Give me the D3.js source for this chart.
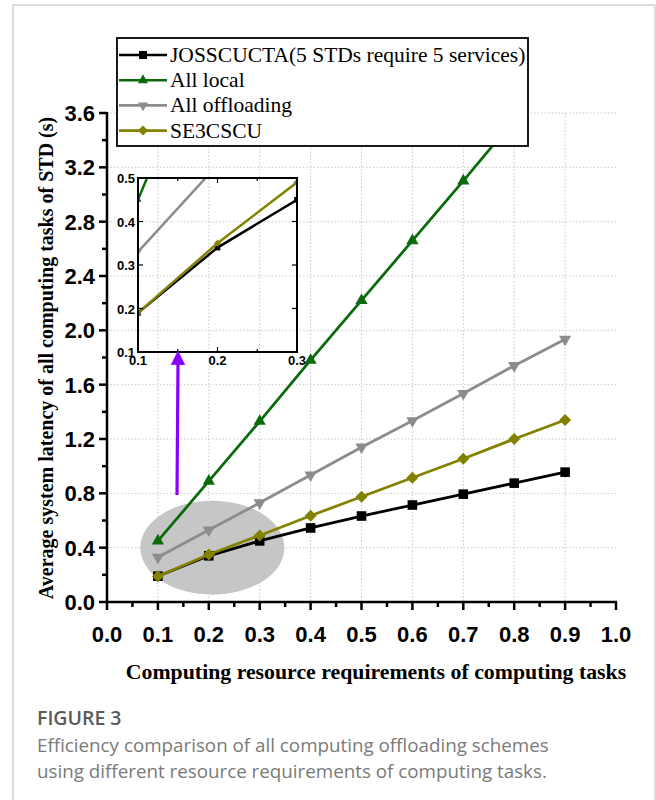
<!DOCTYPE html>
<html>
<head>
<meta charset="utf-8">
<script src="https://cdn.jsdelivr.net/npm/d3@7"></script>
<style>
body { margin: 0; background: #fff; }
svg { display: block; }
</style>
</head>
<body>
<svg id="chart" width="656" height="800"></svg>
<script>
// values
var xValues = [0.1, 0.2, 0.3, 0.4, 0.5, 0.6, 0.7, 0.8, 0.9];
var jossValues = [0.19, 0.34, 0.45, 0.545, 0.633, 0.714, 0.794, 0.875, 0.956];
var localValues = [0.45, 0.89, 1.33, 1.78, 2.22, 2.66, 3.10, 3.55, 3.99];
var offloadValues = [0.33, 0.53, 0.73, 0.935, 1.14, 1.335, 1.535, 1.74, 1.935];
var se3Values = [0.19, 0.35, 0.49, 0.635, 0.775, 0.915, 1.055, 1.2, 1.34];
var seriesNames = ["JOSSCUCTA(5 STDs require 5 services)", "All local", "All offloading", "SE3CSCU"];

var xTicks = [0.0, 0.1, 0.2, 0.3, 0.4, 0.5, 0.6, 0.7, 0.8, 0.9, 1.0];
var yTicks = [0.0, 0.4, 0.8, 1.2, 1.6, 2.0, 2.4, 2.8, 3.2, 3.6];
var insetXTicks = [0.1, 0.2, 0.3];
var insetYTicks = [0.1, 0.2, 0.3, 0.4, 0.5];

var series = [
    {name: seriesNames[0], values: jossValues, color: "#000000", shape: "square"},
    {name: seriesNames[1], values: localValues, color: "#0b6b0b", shape: "up"},
    {name: seriesNames[2], values: offloadValues, color: "#8c8c8c", shape: "down"},
    {name: seriesNames[3], values: se3Values, color: "#828200", shape: "diamond"}
];

var svg = d3.select("#chart");

// outer frame of the figure
svg.append("rect")
    .attr("x", 13).attr("y", 5)
    .attr("width", 642).attr("height", 820)
    .attr("fill", "none")
    .attr("stroke", "#d0d0d0")
    .attr("stroke-width", 1.5);

var plotLeft = 107, plotRight = 616, plotTop = 113, plotBottom = 602;
var x = d3.scaleLinear().domain([0, 1]).range([plotLeft, plotRight]);
var y = d3.scaleLinear().domain([0, 3.6]).range([plotBottom, plotTop]);

svg.append("clipPath").attr("id", "plotClip")
    .append("rect").attr("x", plotLeft).attr("y", plotTop)
    .attr("width", plotRight - plotLeft).attr("height", plotBottom - plotTop);

// dotted grid
var grid = svg.append("g").attr("stroke", "#c8c8c8").attr("stroke-width", 1).attr("stroke-dasharray", "1.5,2");
xTicks.slice(1, -1).forEach(function(t) {
    grid.append("line").attr("x1", x(t)).attr("x2", x(t)).attr("y1", plotTop).attr("y2", plotBottom);
});
yTicks.slice(1).forEach(function(t) {
    grid.append("line").attr("x1", plotLeft).attr("x2", plotRight).attr("y1", y(t)).attr("y2", y(t));
});

// highlight ellipse
svg.append("ellipse")
    .attr("cx", x(0.207)).attr("cy", y(0.4))
    .attr("rx", 72).attr("ry", 47)
    .attr("fill", "#c6c6c6");

function markerPath(shape, size) {
    if (shape === "square") return d3.symbol(d3.symbolSquare, size * size)();
    if (shape === "diamond") return d3.symbol(d3.symbolSquare, size * size * 0.5)();
    return d3.symbol(d3.symbolTriangle, size * size * 0.45)();
}
function markerRotate(shape) {
    if (shape === "diamond") return 45;
    if (shape === "down") return 180;
    return 0;
}

function drawSeries(g, xs, ys, lineWidth, markerSize, clipId) {
    var line = d3.line()
        .x(function(d, i) { return xs(xValues[i]); })
        .y(function(d) { return ys(d); });
    var layer = g.append("g").attr("clip-path", "url(#" + clipId + ")");
    series.forEach(function(s) {
        layer.append("path")
            .datum(s.values)
            .attr("d", line)
            .attr("fill", "none")
            .attr("stroke", s.color)
            .attr("stroke-width", lineWidth);
        layer.selectAll(null).data(s.values).enter().append("path")
            .attr("d", markerPath(s.shape, s.shape === "square" ? markerSize * 0.8 : markerSize))
            .attr("transform", function(d, i) {
                return "translate(" + xs(xValues[i]) + "," + ys(d) + ") rotate(" + markerRotate(s.shape) + ")";
            })
            .attr("fill", s.color);
    });
}

drawSeries(svg, x, y, 2.8, 12, "plotClip");

// main axes
var axisG = svg.append("g").attr("stroke", "#000").attr("stroke-width", 2.5);
axisG.append("line").attr("x1", plotLeft).attr("x2", plotRight + 1).attr("y1", plotBottom).attr("y2", plotBottom);
axisG.append("line").attr("x1", plotLeft).attr("x2", plotLeft).attr("y1", plotTop - 1).attr("y2", plotBottom);
d3.range(0, 21).forEach(function(i) {
    var v = i * 0.05;
    var len = i % 2 === 0 ? 8 : 5;
    axisG.append("line").attr("x1", x(v)).attr("x2", x(v)).attr("y1", plotBottom).attr("y2", plotBottom + len);
});
d3.range(0, 19).forEach(function(i) {
    var v = i * 0.2;
    var len = i % 2 === 0 ? 8 : 5;
    axisG.append("line").attr("x1", plotLeft - len).attr("x2", plotLeft).attr("y1", y(v)).attr("y2", y(v));
});

var tickFont = "'Liberation Sans', Arial, sans-serif";
svg.append("g").selectAll("text").data(xTicks).enter().append("text")
    .attr("x", function(d) { return x(d); })
    .attr("y", 642)
    .attr("text-anchor", "middle")
    .attr("font-family", tickFont).attr("font-weight", "bold").attr("font-size", 22)
    .text(function(d) { return d.toFixed(1); });
svg.append("g").selectAll("text").data(yTicks).enter().append("text")
    .attr("x", plotLeft - 12)
    .attr("y", function(d) { return y(d) + 8; })
    .attr("text-anchor", "end")
    .attr("font-family", tickFont).attr("font-weight", "bold").attr("font-size", 22)
    .text(function(d) { return d.toFixed(1); });

var serif = "'Liberation Serif', 'Times New Roman', serif";
svg.append("text")
    .attr("x", 376).attr("y", 679)
    .attr("text-anchor", "middle")
    .attr("font-family", serif).attr("font-weight", "bold").attr("font-size", 21.8)
    .text("Computing resource requirements of computing tasks");
svg.append("text")
    .attr("transform", "translate(53," + 358 + ") rotate(-90)")
    .attr("text-anchor", "middle")
    .attr("font-family", serif).attr("font-weight", "bold").attr("font-size", 20)
    .text("Average system latency of all computing tasks of  STD (s)");

// inset zoom of the 0.1-0.3 region
var iLeft = 138, iRight = 297, iTop = 178, iBottom = 352;
var ix = d3.scaleLinear().domain([0.1, 0.3]).range([iLeft, iRight]);
var iy = d3.scaleLinear().domain([0.1, 0.5]).range([iBottom, iTop]);
svg.append("clipPath").attr("id", "insetClip")
    .append("rect").attr("x", iLeft).attr("y", iTop)
    .attr("width", iRight - iLeft).attr("height", iBottom - iTop);

var inset = svg.append("g");
drawSeries(inset, ix, iy, 2.5, 7, "insetClip");
inset.append("rect")
    .attr("x", iLeft).attr("y", iTop)
    .attr("width", iRight - iLeft).attr("height", iBottom - iTop)
    .attr("fill", "none").attr("stroke", "#000").attr("stroke-width", 2);
var iticks = inset.append("g").attr("stroke", "#000").attr("stroke-width", 1.2);
[0.1, 0.15, 0.2, 0.25, 0.3].forEach(function(v, i) {
    var len = i % 2 === 0 ? 5 : 3;
    iticks.append("line").attr("x1", ix(v)).attr("x2", ix(v)).attr("y1", iBottom).attr("y2", iBottom - len);
    iticks.append("line").attr("x1", ix(v)).attr("x2", ix(v)).attr("y1", iTop).attr("y2", iTop + len);
});
insetYTicks.forEach(function(v) {
    iticks.append("line").attr("x1", iLeft).attr("x2", iLeft + 5).attr("y1", iy(v)).attr("y2", iy(v));
    iticks.append("line").attr("x1", iRight).attr("x2", iRight - 5).attr("y1", iy(v)).attr("y2", iy(v));
});
inset.append("g").selectAll("text").data(insetYTicks).enter().append("text")
    .attr("x", iLeft - 3)
    .attr("y", function(d) { return iy(d) + 5; })
    .attr("text-anchor", "end")
    .attr("font-family", tickFont).attr("font-weight", "bold").attr("font-size", 13)
    .text(function(d) { return d.toFixed(1); });
inset.append("g").selectAll("text").data(insetXTicks).enter().append("text")
    .attr("x", function(d) { return ix(d); })
    .attr("y", iBottom + 13)
    .attr("text-anchor", "middle")
    .attr("font-family", tickFont).attr("font-weight", "bold").attr("font-size", 13)
    .text(function(d) { return d.toFixed(1); });

// purple arrow pointing from the ellipse to the inset
svg.append("defs").append("marker")
    .attr("id", "arrowHead")
    .attr("viewBox", "0 0 10 10")
    .attr("refX", 2).attr("refY", 5)
    .attr("markerWidth", 4.5).attr("markerHeight", 6)
    .attr("markerUnits", "strokeWidth")
    .attr("orient", "auto")
    .append("path").attr("d", "M0,0 L10,5 L0,10 Z").attr("fill", "#8a00ff");
svg.append("line")
    .attr("x1", 177).attr("y1", 495)
    .attr("x2", 178).attr("y2", 362)
    .attr("stroke", "#8a00ff").attr("stroke-width", 3.2)
    .attr("marker-end", "url(#arrowHead)");

// legend
var legend = svg.append("g");
legend.append("rect")
    .attr("x", 117).attr("y", 38)
    .attr("width", 411).attr("height", 108)
    .attr("fill", "#fff").attr("stroke", "#000").attr("stroke-width", 1.8);
series.forEach(function(s, i) {
    var cy = 55 + i * 25.2;
    legend.append("line")
        .attr("x1", 119).attr("x2", 167).attr("y1", cy).attr("y2", cy)
        .attr("stroke", s.color).attr("stroke-width", 2.6);
    legend.append("path")
        .attr("d", markerPath(s.shape, s.shape === "square" ? 8 : 10))
        .attr("transform", "translate(143," + cy + ") rotate(" + markerRotate(s.shape) + ")")
        .attr("fill", s.color);
    legend.append("text")
        .attr("x", 170).attr("y", cy + 7)
        .attr("font-family", serif).attr("font-size", 21.5)
        .attr("fill", "#000")
        .text(s.name);
});

// caption
var capFont = "'Open Sans', 'Noto Sans', sans-serif";
svg.append("text")
    .attr("x", 37).attr("y", 725)
    .attr("font-family", capFont).attr("font-size", 19.5).attr("font-weight", 600)
    .attr("fill", "#5a5a5a")
    .text("FIGURE 3");
svg.append("text")
    .attr("x", 37).attr("y", 752)
    .attr("font-family", capFont).attr("font-size", 18.8)
    .attr("fill", "#7a7a7a")
    .text("Efficiency comparison of all computing offloading schemes");
svg.append("text")
    .attr("x", 37).attr("y", 778)
    .attr("font-family", capFont).attr("font-size", 18.8)
    .attr("fill", "#7a7a7a")
    .text("using different resource requirements of computing tasks.");
</script>
</body>
</html>
